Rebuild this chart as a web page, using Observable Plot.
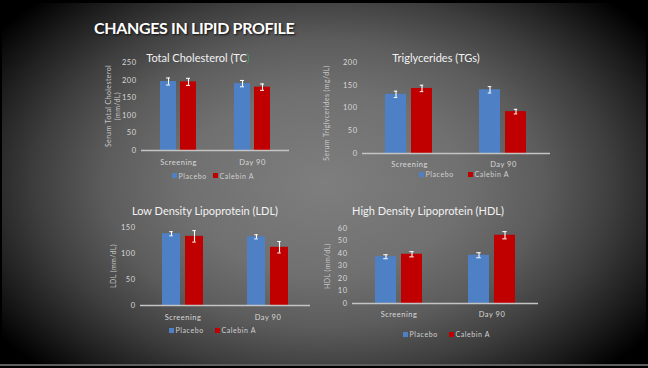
<!DOCTYPE html>
<html><head><meta charset="utf-8">
<script src="https://cdn.jsdelivr.net/npm/d3@7"></script>
<script src="https://cdn.jsdelivr.net/npm/@observablehq/plot@0.6"></script>
<style>
html,body{margin:0;padding:0;background:#000;}
#slide{position:relative;width:648px;height:368px;overflow:hidden;background:#000;font-family:Lato,"DejaVu Sans",sans-serif;}
#bg{position:absolute;left:2px;top:3px;width:644px;height:361px;
 background:radial-gradient(ellipse 400px 262px at 50% 50%, #7e7e7e 0%, #707070 35%, #5c5c5c 55%, #3e3e3e 72%, #202020 86%, #000 100%);}
#bottomline{position:absolute;left:0;top:364px;width:648px;height:2px;background:#5e5e5e;}
.abs{position:absolute;}
#main{left:94px;top:18px;font-weight:700;font-size:16px;color:#fff;letter-spacing:-0.35px;text-shadow:1px 1px 2px #111;white-space:nowrap;}
.ctitle{position:absolute;transform:translate(-50%,-50%);font-size:11px;color:#f2f2f2;white-space:nowrap;}
.ytitle{position:absolute;transform:translate(-50%,-50%) rotate(-90deg);font-size:7px;color:#c8c8c8;white-space:nowrap;text-align:center;line-height:9px;letter-spacing:0.4px;}
.legend{position:absolute;transform:translateY(-50%);display:flex;align-items:center;font-size:7px;color:#d0d0d0;letter-spacing:0.6px;white-space:nowrap;}
.legend .sw{width:5px;height:5px;display:inline-block;margin-right:1.5px;}
.legend .item{display:flex;align-items:center;}
svg{position:absolute;overflow:visible;}
</style></head>
<body>
<div id="slide">
 <div id="bg"></div>
 <div id="bottomline"></div>
 <div id="main" class="abs">CHANGES IN LIPID PROFILE</div>
</div>
<script>
// ---- data ----
const groups = ["Screening", "Day 90"];
const series = ["Placebo", "Calebin A"];
const colors = ["#4e80c5", "#c00000"];

const tcPlacebo = [196, 190];
const tcCalebin = [195, 180];
const tcPlaceboErr = [10, 9];
const tcCalebinErr = [10, 9];
const tcTicks = [0, 50, 100, 150, 200, 250];

const tgPlacebo = [130, 140];
const tgCalebin = [143, 92];
const tgPlaceboErr = [7, 7];
const tgCalebinErr = [7, 5];
const tgTicks = [0, 50, 100, 150, 200];

const ldlPlacebo = [138, 132];
const ldlCalebin = [133, 112];
const ldlPlaceboErr = [4, 4];
const ldlCalebinErr = [11, 11];
const ldlTicks = [0, 50, 100, 150];

const hdlPlacebo = [37.4, 38.6];
const hdlCalebin = [39.4, 54.6];
const hdlPlaceboErr = [1.6, 2];
const hdlCalebinErr = [2.1, 2.9];
const hdlTicks = [0, 10, 20, 30, 40, 50, 60];

const slide = document.getElementById("slide");

function addDiv(cls, html, style) {
  const d = document.createElement("div");
  d.className = cls;
  d.innerHTML = html;
  Object.assign(d.style, style);
  slide.appendChild(d);
  return d;
}

function panel(cfg) {
  const rows = [];
  groups.forEach((g, i) => {
    rows.push({group: g, series: series[0], value: cfg.placebo[i], err: cfg.placeboErr[i]});
    rows.push({group: g, series: series[1], value: cfg.calebin[i], err: cfg.calebinErr[i]});
  });
  const [x0, x1, yTop, yBot] = cfg.frame;
  const facetW = (x1 - x0) / groups.length;
  const step = cfg.barW + cfg.gap;
  const pInner = cfg.gap / step;
  const pOuter = (facetW / step - groups.length + pInner) / 2;
  const capInset = (cfg.barW - 4.5) / 2;
  const chart = Plot.plot({
    width: cfg.w, height: cfg.h,
    marginLeft: x0 - cfg.left, marginRight: cfg.left + cfg.w - x1,
    marginTop: yTop - cfg.top, marginBottom: cfg.top + cfg.h - yBot,
    style: {background: "transparent", color: "#d8d8d8", fontFamily: "Lato, sans-serif", fontSize: "7.5px", letterSpacing: "0.5px", overflow: "visible"},
    facet: {data: rows, x: "group"},
    fx: {domain: groups, padding: 0, label: null, axis: "bottom", tickSize: 0, tickPadding: cfg.fxPad},
    x: {domain: series, axis: null, paddingInner: pInner, paddingOuter: pOuter},
    y: {domain: cfg.domain, ticks: cfg.ticks, tickSize: 0, tickPadding: 5, label: null},
    color: {domain: series, range: colors},
    marks: [
      Plot.barY(rows, {x: "series", y: "value", fill: "series"}),
      Plot.ruleY([0], {stroke: "#c4c4c4", strokeWidth: 1.5}),
      Plot.ruleX(rows, {x: "series", y1: d => d.value - d.err, y2: d => d.value + d.err, stroke: "#fff", strokeWidth: 1.1}),
      Plot.tickY(rows, {x: "series", y: d => d.value - d.err, stroke: "#fff", strokeWidth: 1, insetLeft: capInset, insetRight: capInset}),
      Plot.tickY(rows, {x: "series", y: d => d.value + d.err, stroke: "#fff", strokeWidth: 1, insetLeft: capInset, insetRight: capInset})
    ]
  });
  chart.style.left = cfg.left + "px";
  chart.style.top = cfg.top + "px";
  slide.appendChild(chart);
  addDiv("ctitle", cfg.title, {left: cfg.titleX + "px", top: cfg.titleY + "px"});
  addDiv("ytitle", cfg.ytitle, {left: cfg.ytX + "px", top: cfg.ytY + "px"});
  const lg = addDiv("legend", "", {left: cfg.legX + "px", top: cfg.legY + "px"});
  series.forEach((s, i) => {
    const it = document.createElement("span");
    it.className = "item";
    it.style.marginRight = i === 0 ? cfg.legGap + "px" : "0";
    it.innerHTML = `<span class="sw" style="background:${colors[i]}"></span><span>${s}</span>`;
    lg.appendChild(it);
  });
}

panel({
  placebo: tcPlacebo, calebin: tcCalebin, placeboErr: tcPlaceboErr, calebinErr: tcCalebinErr,
  domain: [0, 250], ticks: tcTicks,
  left: 80, top: 50, w: 225, h: 125, frame: [140, 289, 62, 150], barW: 16.5, gap: 4, fxPad: 9,
  title: 'Total Cholesterol (TC<span style="color:#3f9a6a">)</span>', titleX: 198, titleY: 57,
  ytitle: "Serum Total Cholesterol<br>(mm/dL)", ytX: 113, ytY: 106,
  legX: 172, legY: 175.5, legGap: 6
});
panel({
  placebo: tgPlacebo, calebin: tgCalebin, placeboErr: tgPlaceboErr, calebinErr: tgCalebinErr,
  domain: [0, 200], ticks: tgTicks,
  left: 320, top: 50, w: 240, h: 125, frame: [361, 550, 62, 153], barW: 22, gap: 5, fxPad: 8,
  title: "Triglycerides (TGs)", titleX: 436, titleY: 57,
  ytitle: "Serum Triglycerides (mg/dL)", ytX: 326, ytY: 113,
  legX: 419, legY: 174, legGap: 14
});
panel({
  placebo: ldlPlacebo, calebin: ldlCalebin, placeboErr: ldlPlaceboErr, calebinErr: ldlCalebinErr,
  domain: [0, 150], ticks: ldlTicks,
  left: 80, top: 215, w: 240, h: 115, frame: [139, 310, 227, 305], barW: 19, gap: 5, fxPad: 9,
  title: "Low Density Lipoprotein (LDL)", titleX: 205, titleY: 210,
  ytitle: "LDL (mm/dL)", ytX: 113, ytY: 266,
  legX: 169, legY: 330, legGap: 11
});
panel({
  placebo: hdlPlacebo, calebin: hdlCalebin, placeboErr: hdlPlaceboErr, calebinErr: hdlCalebinErr,
  domain: [0, 60], ticks: hdlTicks,
  left: 320, top: 215, w: 240, h: 115, frame: [352, 538, 228, 303], barW: 21, gap: 5, fxPad: 8,
  title: "High Density Lipoprotein (HDL)", titleX: 428, titleY: 210,
  ytitle: "HDL (mm/dL)", ytX: 327, ytY: 266,
  legX: 403, legY: 334, legGap: 11
});
</script>
</body></html>
